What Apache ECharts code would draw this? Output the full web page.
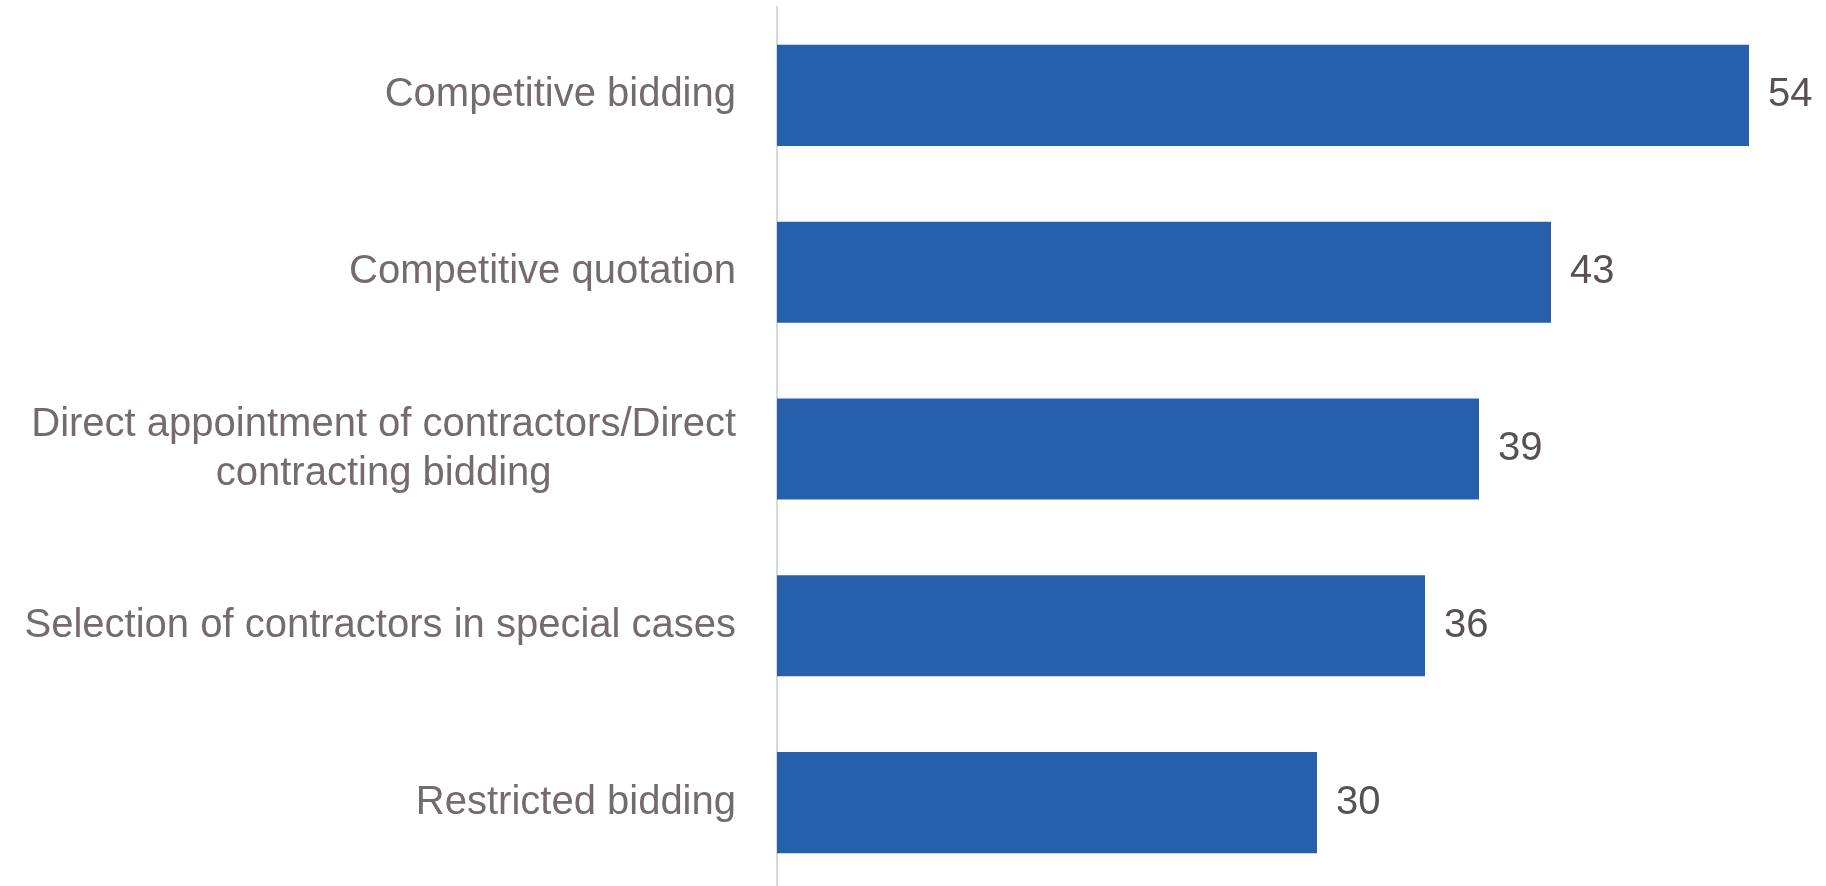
<!DOCTYPE html>
<html>
<head>
<meta charset="utf-8">
<style>
  html, body { margin: 0; padding: 0; background: #ffffff; }
  #chart { width: 1826px; height: 886px; }
</style>
<script src="https://cdn.jsdelivr.net/npm/echarts@6/dist/echarts.min.js"></script>
</head>
<body>
<div id="chart"></div>
<script>
// Procurement methods, top to bottom
const categories = [
  'Competitive bidding',
  'Competitive quotation',
  'Direct appointment of contractors/Direct\ncontracting bidding',
  'Selection of contractors in special cases',
  'Restricted bidding'
];
const values = [54, 43, 39, 36, 30];

const FONT = '"Liberation Sans Narrow", "Liberation Sans", Arial, sans-serif';

const chart = echarts.init(document.getElementById('chart'), null, { renderer: 'canvas' });

chart.setOption({
  animation: false,
  backgroundColor: '#ffffff',
  grid: {
    left: 777, width: 972, top: 7, height: 884,
    containLabel: false,
    outerBoundsMode: 'none'
  },
  xAxis: {
    type: 'value',
    min: 0,
    max: 54,
    show: false
  },
  yAxis: {
    type: 'category',
    inverse: true,
    data: categories,
    axisLine: { show: true, lineStyle: { color: '#d9d9d9', width: 2 } },
    axisTick: { show: false },
    splitLine: { show: false },
    axisLabel: {
      margin: 41,
      align: 'right',
      fontFamily: FONT,
      fontSize: 40,
      color: '#756a6c',
      lineHeight: 49,
      // each line centred within the label block
      formatter: function (v) {
        return v.split('\n').map(function (l) { return '{c|' + l + '}'; }).join('\n');
      },
      rich: {
        c: { align: 'center', fontFamily: FONT, fontSize: 40, color: '#756a6c', lineHeight: 49 }
      }
    }
  },
  series: [{
    type: 'bar',
    data: values,
    barCategoryGap: '42.8%',
    itemStyle: { color: '#2660ab' },
    label: {
      show: true,
      position: 'right',
      distance: 19,
      fontFamily: FONT,
      fontSize: 40,
      color: '#5a5052'
    }
  }]
});
</script>
</body>
</html>
